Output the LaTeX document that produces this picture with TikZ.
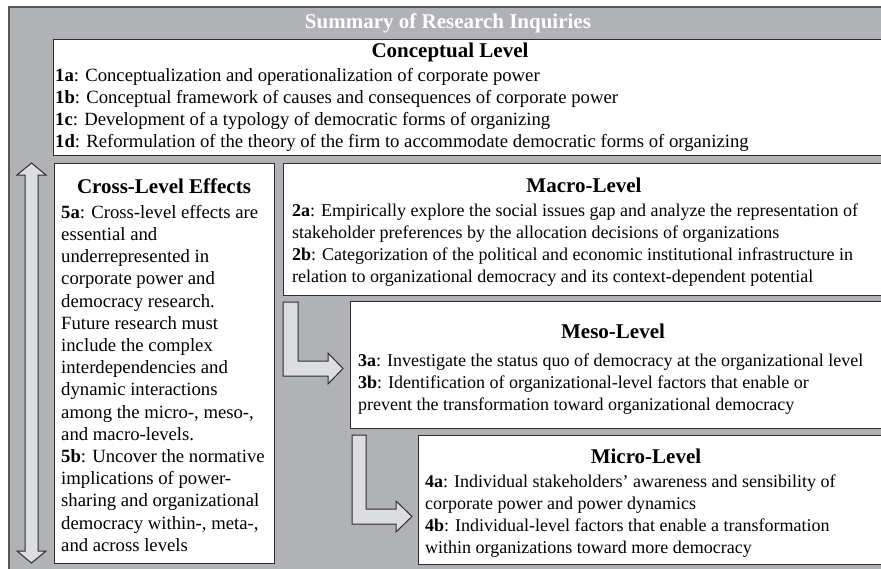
\documentclass[tikz,border=0pt]{standalone}
\usepackage{fontspec}
\setmainfont{Liberation Serif}
\usepackage{tikz}
\usetikzlibrary{positioning}
\definecolor{framegray}{RGB}{177,178,181}
\definecolor{arrowgray}{RGB}{220,221,223}
\definecolor{edgegray}{RGB}{45,45,48}

\begin{document}
\begin{tikzpicture}[x=1pt, y=-1pt,
panel/.style={draw=edgegray, line width=1.2pt, fill=white, anchor=north west, inner sep=0pt},
heading/.style={font=\fontsize{21}{24}\selectfont\bfseries, inner sep=0pt},
bodytext/.style={font=\fontsize{18}{22}\selectfont, align=left, anchor=north west, inner sep=0pt},
widetext/.style={bodytext, font=\fontsize{18.7}{22.2}\selectfont},
bigarrow/.style={draw=edgegray, line width=1pt, fill=arrowgray, line join=miter}]
\useasboundingbox (0,0) rectangle (881,568);
\clip (0,0) rectangle (881,568);
% gray frame with title
\draw[fill=framegray, draw=edgegray!80, line width=1.6pt] (9,7) rectangle (900,600);
\node[heading, text=white] (title) at (448,23) {Summary of Research Inquiries};
% panels
\node[panel, minimum width=860pt, minimum height=116pt] (concept) at (53,39) {};
\node[panel, minimum width=220pt, minimum height=400pt] (cross) at (54,163) {};
\node[panel, minimum width=620pt, minimum height=132pt] (macro) at (283,163) {};
\node[panel, minimum width=560pt, minimum height=127pt] (meso) at (350,301) {};
\node[panel, minimum width=500pt, minimum height=129pt] (micro) at (418,435) {};
% headings
\node[heading] (concepthead) at (450,52) {Conceptual Level};
\node[heading] (crosshead) at (164,186) {Cross-Level Effects};
\node[heading] (macrohead) at (584,185) {Macro-Level};
\node[heading] (mesohead) at (613,331) {Meso-Level};
\node[heading] (microhead) at (646,456) {Micro-Level};
% texts
\node[widetext] (concepttext) at (55,68) {\textbf{1a}: Conceptualization and operationalization of corporate power\\
\textbf{1b}: Conceptual framework of causes and consequences of corporate power\\
\textbf{1c}: Development of a typology of democratic forms of organizing\\
\textbf{1d}: Reformulation of the theory of the firm to accommodate democratic forms of organizing};
\node[widetext] (crosstext) at (61,205) {\textbf{5a}: Cross-level effects are\\
essential and\\
underrepresented in\\
corporate power and\\
democracy research.\\
Future research must\\
include the complex\\
interdependencies and\\
dynamic interactions\\
among the micro-, meso-,\\
and macro-levels.\\
\textbf{5b}: Uncover the normative\\
implications of power-\\
sharing and organizational\\
democracy within-, meta-,\\
and across levels};
\node[bodytext] (macrotext) at (292,204) {\textbf{2a}: Empirically explore the social issues gap and analyze the representation of\\
stakeholder preferences by the allocation decisions of organizations\\
\textbf{2b}: Categorization of the political and economic institutional infrastructure in\\
relation to organizational democracy and its context-dependent potential};
\node[bodytext] (mesotext) at (358,354) {\textbf{3a}: Investigate the status quo of democracy at the organizational level\\
\textbf{3b}: Identification of organizational-level factors that enable or\\
prevent the transformation toward organizational democracy};
\node[bodytext] (microtext) at (425,475) {\textbf{4a}: Individual stakeholders’ awareness and sensibility of\\
corporate power and power dynamics\\
\textbf{4b}: Individual-level factors that enable a transformation\\
within organizations toward more democracy};
% arrows
\draw[bigarrow] (31.5,163) -- (46,175) -- (38,175) -- (38,551) -- (46,551) -- (31.5,563)
  -- (17,551) -- (25,551) -- (25,175) -- (17,175) -- cycle;
\draw[bigarrow] (283,302) -- (298,302) -- (298,361) -- (328,361) -- (328,353) -- (343,368.5)
  -- (328,384) -- (328,376) -- (283,376) -- cycle;
\draw[bigarrow] (352,435) -- (366,435) -- (366,509) -- (396,509) -- (396,501) -- (412,516.5)
  -- (396,532) -- (396,524) -- (352,524) -- cycle;
\end{tikzpicture}
\end{document}
